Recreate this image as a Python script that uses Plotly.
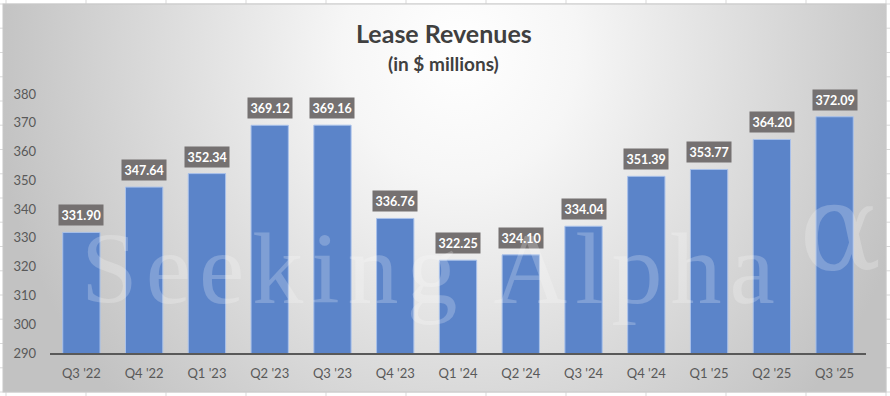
import base64
import plotly.graph_objects as go

categories = ["Q3 '22", "Q4 '22", "Q1 '23", "Q2 '23", "Q3 '23", "Q4 '23", "Q1 '24",
              "Q2 '24", "Q3 '24", "Q4 '24", "Q1 '25", "Q2 '25", "Q3 '25"]
values = [331.90, 347.64, 352.34, 369.12, 369.16, 336.76, 322.25,
          324.10, 334.04, 351.39, 353.77, 364.20, 372.09]
y_ticks = [290, 300, 310, 320, 330, 340, 350, 360, 370, 380]

W, H = 890, 396
ML, MR, MT, MB = 50, 24, 94, 43
PW, PH = W - ML - MR, H - MT - MB

# background: spreadsheet grid + chart area with radial gradient
svg = [f'<svg xmlns="http://www.w3.org/2000/svg" width="{W}" height="{H}" viewBox="0 0 {W} {H}">',
       '<defs><radialGradient id="g" gradientUnits="userSpaceOnUse" cx="460" cy="50" r="470" '
       'gradientTransform="translate(460 50) scale(1 1.1) translate(-460 -50)">'
       '<stop offset="0" stop-color="#ffffff"/><stop offset="0.25" stop-color="#f6f6f6"/>'
       '<stop offset="1" stop-color="#c2c2c2"/></radialGradient></defs>',
       f'<rect x="0" y="0" width="{W}" height="{H}" fill="#ffffff"/>']
x = 6
while x < W:
    svg.append(f'<line x1="{x}" y1="0" x2="{x}" y2="{H}" stroke="#d9d9d9" stroke-width="1"/>')
    x += 80
yy = 4.0
while yy < H:
    svg.append(f'<line x1="0" y1="{yy:.1f}" x2="{W}" y2="{yy:.1f}" stroke="#d9d9d9" stroke-width="1"/>')
    yy += 24.25
svg.append('<rect x="3" y="4" width="883" height="388" fill="url(#g)" stroke="#c8c8c8" stroke-width="1"/>')
svg.append('</svg>')
bg_uri = "data:image/svg+xml;base64," + base64.b64encode("".join(svg).encode()).decode()


def px_x(p):
    return (p - ML) / PW


def px_y(p):
    return (H - MB - p) / PH


fig = go.Figure()
fig.add_trace(go.Bar(
    x=categories, y=values, width=0.594,
    marker=dict(color="#5b84c9", line=dict(color="#a9c1ea", width=1)),
    hoverinfo="skip",
))

annotations = []
for c, v in zip(categories, values):
    annotations.append(dict(
        x=c, y=v, xref="x", yref="y", text=f"<b>{v:.2f}</b>", showarrow=False,
        yanchor="bottom", yshift=6, bgcolor="#757171", borderpad=2.5,
        font=dict(family="Lato", size=12.5, color="#ffffff"),
    ))

wm_color = "rgba(255,255,255,0.22)"
annotations += [
    dict(x=px_x(444), y=px_y(33), xref="paper", yref="paper", text="<b>Lease Revenues</b>",
         showarrow=False, xanchor="center", yanchor="middle",
         font=dict(family="Lato", size=25, color="#404040")),
    dict(x=px_x(443), y=px_y(63), xref="paper", yref="paper", text="<b>(in $ millions)</b>",
         showarrow=False, xanchor="center", yanchor="middle",
         font=dict(family="Lato", size=19, color="#404040")),
    dict(x=px_x(432), y=px_y(268), xref="paper", yref="paper",
         text='<span style="letter-spacing:8px">Seeking Alpha</span>',
         showarrow=False, xanchor="center", yanchor="middle",
         font=dict(family="Liberation Serif", size=102, color=wm_color)),
    dict(x=px_x(840), y=px_y(228), xref="paper", yref="paper", text="α",
         showarrow=False, xanchor="center", yanchor="middle",
         font=dict(family="DejaVu Serif", size=122, color=wm_color)),
]

fig.update_layout(
    width=W, height=H,
    margin=dict(l=ML, r=MR, t=MT, b=MB, pad=0),
    paper_bgcolor="#ffffff", plot_bgcolor="rgba(0,0,0,0)",
    showlegend=False, bargap=0.4,
    annotations=annotations,
    images=[dict(source=bg_uri, xref="paper", yref="paper",
                 x=px_x(0), y=px_y(0), sizex=W / PW, sizey=H / PH,
                 xanchor="left", yanchor="top", sizing="stretch", layer="below")],
    xaxis=dict(
        type="category", range=[-0.5, len(categories) - 0.5],
        showgrid=False, zeroline=False, ticks="",
        showline=True, linecolor="#595959", linewidth=1.5,
        tickfont=dict(family="Lato", size=13, color="#595959"),
        ticklabelstandoff=8,
    ),
    yaxis=dict(
        range=[290, 380], tickvals=y_ticks, showgrid=False, zeroline=False,
        ticks="", showline=False,
        tickfont=dict(family="Lato", size=13, color="#595959"),
        ticklabelstandoff=13,
    ),
)

fig.write_html("out.html", config={"displayModeBar": False},
               post_script="document.body.style.margin='0';")
